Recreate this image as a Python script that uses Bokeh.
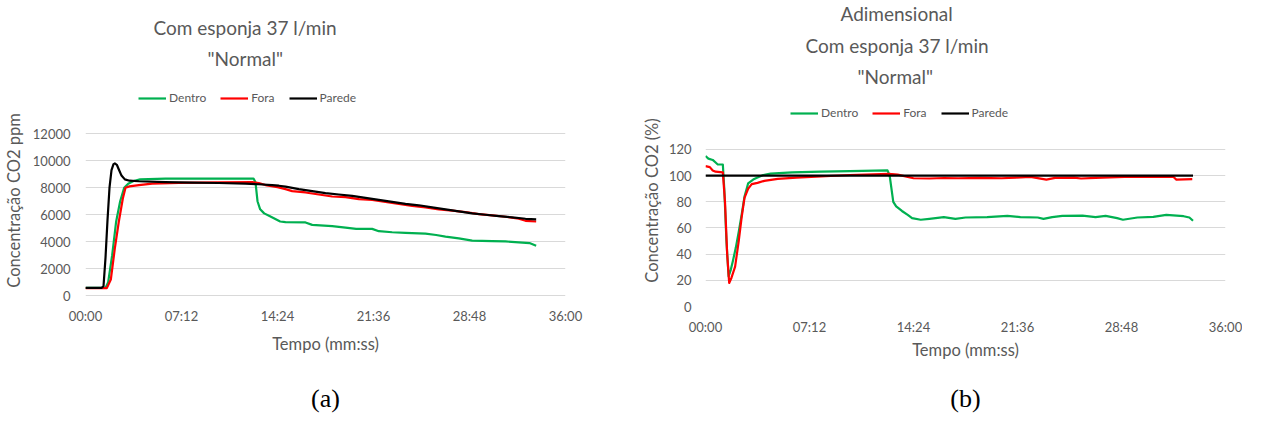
from bokeh.plotting import figure
from bokeh.models import Range1d, FixedTicker, Legend, LegendItem, LinearAxis, Title
from bokeh.layouts import row
from bokeh.embed import file_html
from bokeh.resources import INLINE

# ---------------- data: chart (a), CO2 ppm ----------------
t_parede_a = [0, 1.2, 1.35, 1.5, 1.65, 1.8, 1.95, 2.1, 2.2, 2.35, 2.5, 2.7, 2.95, 3.3, 4, 6, 8, 10, 12, 13,
              14, 14.5, 15, 16, 17, 18, 19, 20, 21, 22, 23, 24, 25, 26, 27, 28, 29, 30, 31, 32, 33, 33.8]
parede_a = [580, 580, 700, 2800, 5600, 8000, 9300, 9750, 9800, 9700, 9350, 8900, 8620, 8520, 8480, 8420, 8380, 8350, 8300, 8260,
            8200, 8150, 8080, 7900, 7750, 7600, 7500, 7400, 7250, 7100, 6950, 6800, 6700, 6550, 6400, 6250, 6100, 6000, 5900, 5800, 5700, 5650]

t_dentro_a = [0, 1.5, 1.7, 2.0, 2.3, 2.6, 2.9, 3.2, 3.6, 4.1, 6, 12.6, 12.75, 12.9, 13.1, 13.4, 13.8, 14.2, 14.6, 15,
              16.5, 17, 18.5, 19.5, 20.3, 21.5, 22, 23, 24, 25.5, 26.3, 27, 28, 29, 30.5, 31.5, 32.5, 33.3, 33.8]
dentro_a = [580, 580, 1000, 3000, 5500, 7000, 8000, 8300, 8500, 8620, 8680, 8680, 8400, 7000, 6400, 6100, 5900, 5700, 5500, 5450,
            5430, 5250, 5150, 5050, 4950, 4950, 4780, 4700, 4650, 4600, 4500, 4380, 4250, 4080, 4050, 4020, 3950, 3900, 3700]

t_fora_a = [0, 1.6, 1.9, 2.2, 2.5, 2.8, 3.0, 3.3, 4, 5, 7, 10, 12.5, 13, 13.5, 14.4, 15, 15.5, 16.5, 17.5, 18.5,
            19.5, 20.5, 21.5, 22.5, 23.5, 24.5, 25.5, 26.5, 27.5, 28.5, 29.5, 30.5, 31.5, 32.5, 33, 33.8]
fora_a = [560, 560, 1200, 3500, 5500, 7200, 8000, 8100, 8200, 8300, 8360, 8400, 8420, 8350, 8200, 8050, 7900, 7750, 7650, 7500, 7350,
          7300, 7150, 7100, 6950, 6800, 6650, 6550, 6400, 6300, 6200, 6050, 5950, 5850, 5700, 5550, 5500]

# ---------------- data: chart (b), CO2 % ----------------
t_parede_b = [0, 33.75]
parede_b = [100, 100]

t_dentro_b = [0, 0.2, 0.5, 0.7, 0.85, 1.2, 1.3, 1.45, 1.6, 1.75, 1.9, 2.1, 2.3, 2.5, 2.7, 2.95, 3.3, 3.6, 4.0, 4.5,
              6, 8, 10, 12.6, 12.75, 13.0, 13.2, 13.6, 14.0, 14.3, 14.9, 15.5, 16.5, 17.3, 18, 19.5, 20.9, 21.8, 23,
              23.4, 24, 24.7, 26.1, 27, 27.7, 28.5, 28.9, 29.9, 31, 31.9, 33.1, 33.5, 33.75]
dentro_b = [115, 113, 112, 110, 108.5, 108.5, 90, 50, 23, 28, 35, 45, 57, 70, 84, 94, 97, 98.5, 100.5, 101.5,
            102.5, 103, 103.5, 104, 100, 80, 76.5, 73, 70, 67.5, 66.3, 67, 68.3, 67, 68, 68.3, 69.3, 68.3, 68,
            67, 68.3, 69.3, 69.5, 68.3, 69.3, 67.5, 66.3, 68, 68.5, 70, 69, 68, 65.5]

t_fora_b = [0, 0.3, 0.5, 0.7, 1.2, 1.35, 1.5, 1.64, 1.8, 2.05, 2.3, 2.5, 2.7, 2.95, 3.2, 3.6, 4.07, 5, 6.3, 8, 10,
            12.7, 13.3, 14, 14.4, 15.5, 16.5, 17.5, 19, 20.5, 21.5, 22.5, 23.6, 24.2, 25.5, 26, 27, 28.5, 29.5,
            30.5, 31.5, 32.4, 32.6, 33.7]
fora_b = [107.3, 106.5, 104, 103, 102.5, 80, 40, 18, 22, 30.5, 50, 68, 83, 90, 93.5, 94.5, 96, 97.5, 98.5, 99.5, 100.5,
          101.3, 100.8, 99, 98, 97.8, 98.2, 98, 98.3, 98, 98.5, 99, 97, 98.3, 98.5, 97.8, 98.3, 98.8, 99.2,
          99, 99.2, 99, 97, 97.3]

# ---------------- ticks ----------------
x_ticks = [0, 7.2, 14.4, 21.6, 28.8, 36]
x_tick_labels = ["00:00", "07:12", "14:24", "21:36", "28:48", "36:00"]
y_ticks_a = [0, 2000, 4000, 6000, 8000, 10000, 12000]
y_tick_labels_a = ["0", "2000", "4000", "6000", "8000", "10000", "12000"]
y_ticks_b = [0, 20, 40, 60, 80, 100, 120]
y_tick_labels_b = ["0", "20", "40", "60", "80", "100", "120"]

series_names = ["Dentro", "Fora", "Parede"]
colors = ["#00B050", "#FF0000", "#000000"]

FONT = "Lato"
GRAY = "#595959"
WA, WB, H = 617, 625, 426
TOP, BOTTOM = 90, 120          # shared frame borders (row layouts align plot frames)
FRAME_H = H - TOP - BOTTOM     # frame spans page y 98..314
HL = 14                        # legend height


def style(p, yt, ytl, ylabel, ystand, ylstand, xstand, xlstand):
    p.outline_line_color = None
    p.xgrid.grid_line_color = None
    p.ygrid.grid_line_color = "#D9D9D9"
    p.ygrid.grid_line_width = 1
    p.ygrid.ticker = FixedTicker(ticks=yt)
    p.yaxis.ticker = FixedTicker(ticks=yt)
    p.yaxis.bounds = (yt[0], yt[-1])
    p.yaxis.major_label_overrides = dict(zip(yt, ytl))
    p.xaxis.ticker = FixedTicker(ticks=x_ticks)
    p.xaxis.major_label_overrides = dict(zip(x_ticks, x_tick_labels))
    for ax in (p.xaxis[0], p.yaxis[0]):
        ax.axis_line_color = None
        ax.major_tick_line_color = None
        ax.minor_tick_line_color = None
        ax.major_tick_out = 0
        ax.major_tick_in = 0
        ax.major_label_text_font = FONT
        ax.major_label_text_font_size = "13px"
        ax.major_label_text_color = GRAY
        ax.axis_label_text_font = FONT
        ax.axis_label_text_font_size = "16.5px"
        ax.axis_label_text_font_style = "normal"
        ax.axis_label_text_color = GRAY
    p.yaxis.axis_label = ylabel
    p.yaxis.major_label_standoff = ystand
    p.yaxis.axis_label_standoff = ylstand
    p.xaxis.axis_label = "Tempo (mm:ss)"
    p.xaxis.major_label_standoff = xstand
    p.xaxis.axis_label_standoff = xlstand


def add_lines(p, ts, vs, vx, center_page_y):
    items = []
    for t, v, name, c in zip(ts, vs, series_names, colors):
        r = p.line(t, v, line_color=c, line_width=2.2, line_join="round")
        items.append(LegendItem(label=name, renderers=[r]))
    vy = (TOP + FRAME_H + 8) - (center_page_y + HL / 2)
    leg = Legend(items=items, orientation="horizontal", location=(vx, vy),
                 background_fill_alpha=0, border_line_color=None, padding=0, margin=0,
                 spacing=14, glyph_width=28, glyph_height=14, label_height=14, label_standoff=3,
                 label_text_font=FONT, label_text_font_size="12px", label_text_color=GRAY)
    p.add_layout(leg, "center")


def title(text, left, standoff, valign, size="19px"):
    return Title(text=text, align="left", offset=left, vertical_align=valign, standoff=standoff,
                 text_font=FONT, text_font_size=size, text_font_style="normal", text_color=GRAY)


def caption_axis(p, text, xc, standoff):
    ax = LinearAxis(ticker=FixedTicker(ticks=[xc]), bounds=(xc - 0.5, xc + 0.5), axis_label=text,
                    major_label_overrides={xc: ""}, major_label_text_font_size="1px",
                    major_label_text_alpha=0,
                    axis_line_color=None, major_tick_line_color=None, minor_tick_line_color=None,
                    major_tick_out=0, major_tick_in=0, major_label_standoff=0,
                    axis_label_standoff=standoff, axis_label_text_font="Liberation Serif",
                    axis_label_text_font_size="26px", axis_label_text_font_style="normal",
                    axis_label_text_color="#000000")
    p.add_layout(ax, "below")


# ---------------- chart (a) ----------------
# 12000 sits 40px below the frame top, 0 sits 11px above the frame bottom
ppx_a = 12000 / 165
pa = figure(width=WA, height=H, x_range=Range1d(0, 36),
            y_range=Range1d(-11 * ppx_a, 12000 + 40 * ppx_a),
            output_backend="svg", toolbar_location=None,
            min_border_left=79, min_border_right=52, min_border_top=TOP, min_border_bottom=BOTTOM)
style(pa, y_ticks_a, y_tick_labels_a, "Concentração CO2 ppm", 15, 6, 1, 7)
add_lines(pa, [t_dentro_a, t_fora_a, t_parede_a], [dentro_a, fora_a, parede_a], 53, 106)
pa.add_layout(Title(text=" ", text_font_size="1px", vertical_align="bottom", standoff=19.8), "above")
pa.add_layout(title("\"Normal\"", 122, 0, "top"), "above")
pa.add_layout(title("Com esponja 37 l/min", 68, 15, "bottom"), "above")
caption_axis(pa, "(a)", 15.56, 27)

# ---------------- chart (b) ----------------
# 120 sits 56px below the frame top, 0 at the frame bottom
ppx_b = 120 / 160
pb = figure(width=WB, height=H, x_range=Range1d(0, 36), y_range=Range1d(0, 120 + 56 * ppx_b),
            output_backend="svg", toolbar_location=None,
            min_border_left=88, min_border_right=17, min_border_top=TOP, min_border_bottom=BOTTOM)
style(pb, y_ticks_b, y_tick_labels_b, "Concentração CO2 (%)", 14, 4, 12, 2)
add_lines(pb, [t_dentro_b, t_fora_b, t_parede_b], [dentro_b, fora_b, parede_b], 85, 121)
pb.add_layout(title("\"Normal\"", 152, 9.4, "top"), "above")
pb.add_layout(title("Com esponja 37 l/min", 100, 6.8, "bottom"), "above")
pb.add_layout(title("Adimensional", 135, 2.6, "top"), "above")
caption_axis(pb, "(b)", 16.7, 21)

layout = row(pa, pb)
open("out.html", "w").write(file_html(layout, INLINE))
